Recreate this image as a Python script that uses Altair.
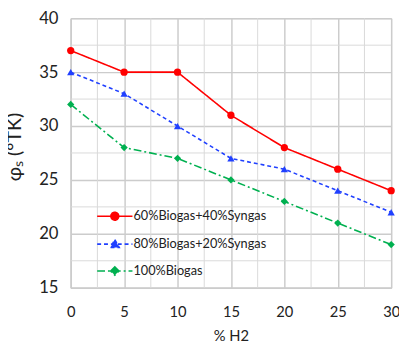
import altair as alt
import pandas as pd

h2 = [0, 5, 10, 15, 20, 25, 30]
phi_60 = [37, 35, 35, 31, 28, 26, 24]
phi_80 = [35, 33, 30, 27, 26, 24, 22]
phi_100 = [32, 28, 27, 25, 23, 21, 19]
series = ["60%Biogas+40%Syngas", "80%Biogas+20%Syngas", "100%Biogas"]
colors = ["#ff0000", "#2040ff", "#00b050"]
shapes = ["circle", "triangle-up", "diamond"]
dashes = [[1, 0], [4, 3], [8, 3, 2, 3]]
x_major = [0, 5, 10, 15, 20, 25, 30]
x_minor = [2.5, 7.5, 12.5, 17.5, 22.5, 27.5]
y_major = [15, 20, 25, 30, 35, 40]
y_minor = [17.5, 22.5, 27.5, 32.5, 37.5]

# legend symbols: line + marker as custom paths
legend_paths = [
    "M-1.8,0H1.8M0.4,0A0.4,0.4 0 1,1 -0.4,0A0.4,0.4 0 1,1 0.4,0Z",
    "M-1.8,0H1.8M0,-0.45L0.45,0.35L-0.45,0.35Z",
    "M-1.8,0H1.8M0,-0.42L0.42,0L0,0.42L-0.42,0Z",
]

rows = []
for name, vals in zip(series, [phi_60, phi_80, phi_100]):
    for x, v in zip(h2, vals):
        rows.append({"h2": x, "phi": v, "series": name})
df = pd.DataFrame(rows)

color_scale = alt.Scale(domain=series, range=colors)
dash_scale = alt.Scale(domain=series, range=dashes)
font = "Lato"

x_scale = alt.Scale(domain=[0, 30], nice=False)
y_scale = alt.Scale(domain=[15, 40], nice=False, zero=False)

x_major_axis = alt.Axis(values=x_major, orient="bottom", title="% H2", grid=True,
                        gridColor="#cccccc", gridWidth=1.5, ticks=False,
                        domainColor="#cccccc", domainWidth=1.5,
                        labelFont=font, labelFontSize=15, labelColor="#222222",
                        labelPadding=17, titleFont=font, titleFontSize=15,
                        titleFontWeight="normal", titleColor="#222222",
                        titlePadding=10, labelFlush=False)
y_major_axis = alt.Axis(values=y_major, orient="left", title="φₛ (°TK)", grid=True,
                        gridColor="#cccccc", gridWidth=1.5, ticks=False,
                        domainColor="#cccccc", domainWidth=1.5,
                        labelFont=font, labelFontSize=17, labelColor="#222222",
                        labelPadding=13, titleFont=font, titleFontSize=20,
                        titleFontWeight="normal", titleColor="#222222",
                        titlePadding=15, titleY=131)

# minor gridlines (drawn beneath everything)
minor_x = alt.Chart(pd.DataFrame({"v": x_minor})).mark_rule(
    color="#d9d9d9", strokeWidth=1, opacity=1
).encode(x=alt.X("v:Q", scale=x_scale, axis=None))
minor_y = alt.Chart(pd.DataFrame({"v": y_minor})).mark_rule(
    color="#d9d9d9", strokeWidth=1, opacity=1
).encode(y=alt.Y("v:Q", scale=y_scale, axis=None))

leg = alt.Legend(
    title=None, orient="none", legendX=34, legendY=191, padding=0,
    rowPadding=9.5, symbolSize=400, labelOffset=8, labelFont=font,
    labelFontSize=13, labelColor="#222222", symbolStrokeWidth=1.6,
    labelLimit=300,
)

legend_layer = alt.Chart(df).transform_filter("false").mark_point(
    filled=True, opacity=1, strokeWidth=1.6
).encode(
    x=alt.X("h2:Q", scale=x_scale, axis=None),
    y=alt.Y("phi:Q", scale=y_scale, axis=None),
    color=alt.Color("series:N", scale=color_scale, legend=leg),
    stroke=alt.Stroke("series:N", scale=color_scale, legend=leg),
    shape=alt.Shape("series:N", scale=alt.Scale(domain=series, range=legend_paths), legend=leg),
    strokeDash=alt.StrokeDash("series:N", scale=dash_scale, legend=leg),
)

lines = alt.Chart(df).mark_line(strokeWidth=1.6).encode(
    x=alt.X("h2:Q", scale=x_scale, axis=x_major_axis),
    y=alt.Y("phi:Q", scale=y_scale, axis=y_major_axis),
    color=alt.Color("series:N", scale=color_scale),
    strokeDash=alt.StrokeDash("series:N", scale=dash_scale),
)

point_layers = []
for i, name in enumerate(series):
    point_layers.append(
        alt.Chart(df).transform_filter(alt.datum.series == name).mark_point(
            filled=True, opacity=1, shape=shapes[i], size=55
        ).encode(
            x=alt.X("h2:Q", scale=x_scale, axis=None),
            y=alt.Y("phi:Q", scale=y_scale, axis=None),
            color=alt.Color("series:N", scale=color_scale),
        )
    )

chart = alt.layer(minor_x, minor_y, legend_layer, lines, *point_layers).resolve_axis(
    x="independent", y="independent"
).properties(
    width=327, height=275,
    autosize=alt.AutoSizeParams(type="none"),
    padding={"left": 64, "top": 7, "right": 8, "bottom": 55},
).configure_view(stroke="#cccccc")

chart.save("out.html", embed_options={"renderer": "svg", "actions": False})
